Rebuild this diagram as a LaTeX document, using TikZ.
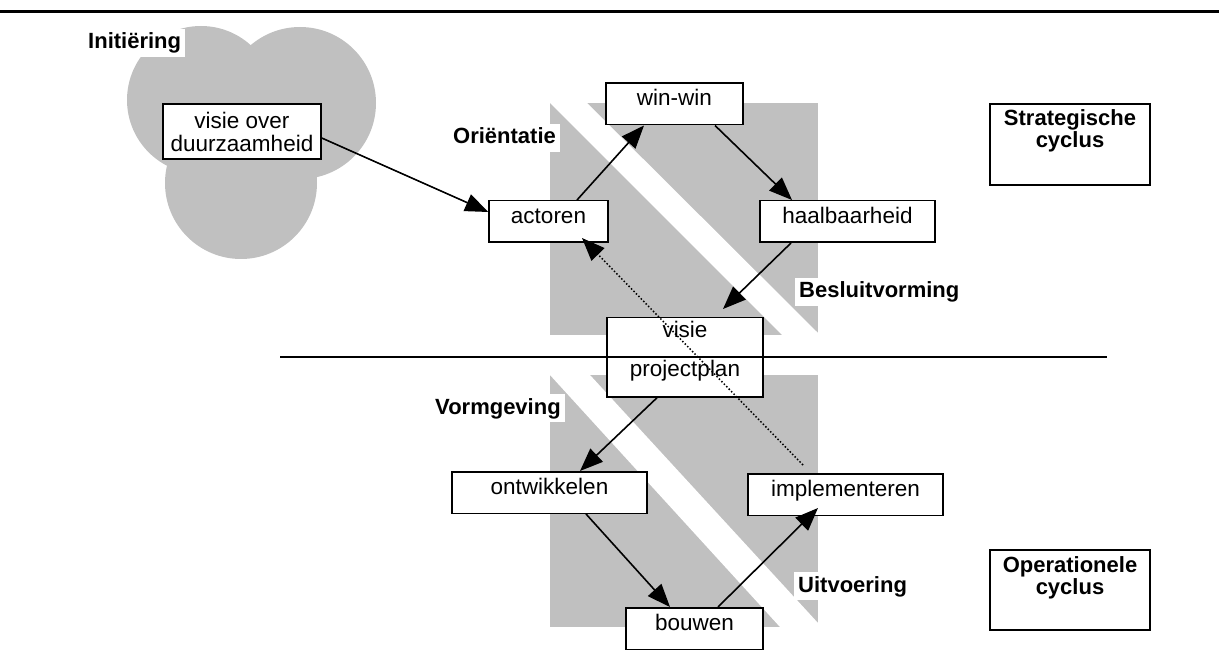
\documentclass[tikz,border=0pt]{standalone}
\usepackage{fontspec}
\setmainfont{Liberation Sans}
\usetikzlibrary{arrows.meta,calc}
\definecolor{greyfill}{RGB}{192,192,192}
\begin{document}
\begin{tikzpicture}[x=1pt,y=-1pt,
  box/.style={draw,line width=1.5pt,fill=white,inner sep=0pt,text height=22.5pt,text depth=19pt,font=\fontsize{22.5}{23}\selectfont},
  halfbox/.style={box,minimum width=156pt,text height=20pt,text depth=19.5pt},
  cycbox/.style={draw,line width=1.5pt,fill=white,inner sep=0pt,font=\fontsize{22}{22}\bfseries\selectfont},
  lbl/.style={fill=white,inner xsep=4pt,inner ysep=3pt,text height=17pt,text depth=5pt,font=\fontsize{22}{22}\bfseries\selectfont,anchor=base west},
  arr/.style={line width=1.6pt,-{Triangle[length=23pt,width=18pt]}},
  dotarr/.style={line width=1.5pt,dash pattern=on 1.5pt off 2pt,-{Triangle[length=23pt,width=18pt]}},
  rule/.style={line width=1.5pt}]
\useasboundingbox (0,0) rectangle (1219,668);
% top rule
\coordinate (topl) at (0,12);
\coordinate (topr) at (1219,12);
\draw[line width=3pt] (topl) -- (topr);
% initiation blob
\fill[greyfill] (201,100) circle[radius=74pt];
\fill[greyfill] (300,103) circle[radius=76pt];
\fill[greyfill] (241,183) circle[radius=76pt];
% grey fields with white diagonal bands
\fill[greyfill] (550,103) rectangle (818,335);
\fill[white] (550,103) -- (587,103) -- (818,333) -- (818,335) -- (782,335) -- cycle;
\fill[greyfill] (550,375) rectangle (818,627);
\fill[white] (550,375) -- (590,375) -- (818,623) -- (818,627) -- (780,627) -- cycle;
% phase labels
\node[lbl] (init) at (84,49) {Initiëring};
\node[lbl] (orie) at (449,144) {Oriëntatie};
\node[lbl] (besl) at (795,298) {Besluitvorming};
\node[lbl] (vorm) at (431,414) {Vormgeving};
\node[lbl] (uitv) at (794,592) {Uitvoering};
% boxes
\node[draw,line width=1.5pt,fill=white,inner sep=0pt,minimum width=158pt,minimum height=55pt,align=center,font=\fontsize{22.5}{23}\selectfont] (duurz) at (242,131.5) {visie over\\duurzaamheid};
\node[box,minimum width=119pt] (act) at (548.5,221.5) {actoren};
\node[box,minimum width=137pt] (winwin) at (674.5,104) {win-win};
\node[box,minimum width=175pt] (haal) at (847.5,221.5) {haalbaarheid};
\node[halfbox] (visie) at (685,337.5) {visie};
\node[halfbox,text depth=20pt] (proj) at (685,377) {projectplan};
\node[box,minimum width=195pt] (ontw) at (549.5,492.5) {ontwikkelen};
\node[box,minimum width=195pt] (impl) at (845.5,494.5) {implementeren};
\node[box,minimum width=137pt] (bouwen) at (694.5,628.5) {bouwen};
\node[cycbox] (strat) at (1070,144.5) {\parbox[c][81pt][t]{160pt}{\centering\vspace*{5.5pt}Strategische\\cyclus}};
\node[cycbox] (oper) at (1070,590) {\parbox[c][80pt][t]{160pt}{\centering\vspace*{6.5pt}Operationele\\cyclus}};
% separator between strategic and operational cycle
\coordinate (sepl) at (280,357);
\coordinate (sepr) at (1107,357);
\draw[rule] (sepl) -- (sepr);
% arrows
\draw[arr] ([yshift=-6.5pt]duurz.east) -- ([yshift=9.5pt]act.west);
\draw[arr] ([xshift=28.5pt]act.north) -- ([xshift=-30.5pt]winwin.south);
\draw[arr] ([xshift=40.5pt]winwin.south) -- ([xshift=-55.5pt]haal.north);
\draw[arr] ([xshift=-56.5pt]haal.south) -- ([xshift=38pt,yshift=8pt]visie.north);
\draw[arr] ([xshift=-28pt]proj.south) -- ([xshift=30.5pt]ontw.north);
\draw[arr] ([xshift=36.5pt]ontw.south) -- ([xshift=-24.5pt]bouwen.north);
\draw[arr] ([xshift=23.5pt]bouwen.north) -- ([xshift=-27.5pt,yshift=8pt]impl.south);
\draw[dotarr] ([xshift=-42.5pt,yshift=8pt]impl.north) -- ([xshift=33.5pt,yshift=5pt]act.south);
\end{tikzpicture}
\end{document}
